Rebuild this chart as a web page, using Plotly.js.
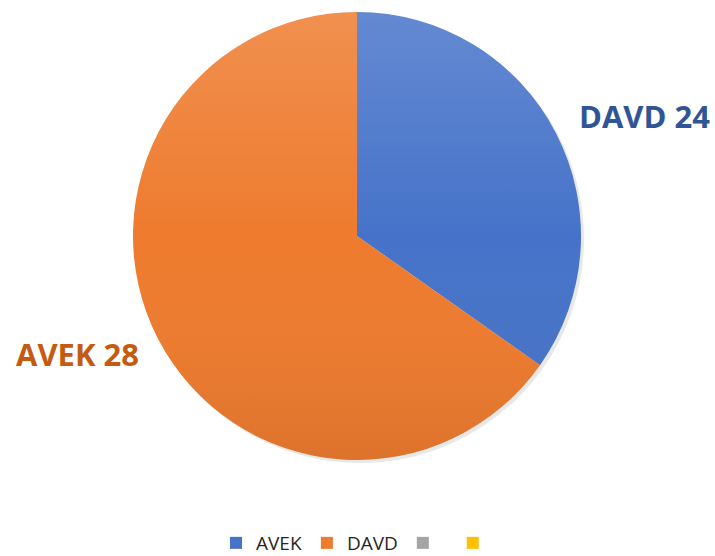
<!DOCTYPE html>
<html>
<head>
<meta charset="utf-8">
<script src="https://cdn.plot.ly/plotly-3.0.1.min.js"></script>
<style>html,body{margin:0;padding:0;background:#fff;}#chart{width:715px;height:556px;}</style>
</head>
<body>
<div id="chart"></div>
<script>
// Legend categories (last two are unnamed in the source chart)
var categories = ["AVEK", "DAVD", " ", "  "];
// Slice sizes
var sliceValues = [24, 45, 0, 0];
var sliceColors = ["#4673C9", "#EE7B2E", "#A5A5A5", "#FFC000"];
// Data label texts as printed on the chart
var labelNames = ["DAVD", "AVEK"];
var labelValues = [24, 28];
var labelColors = ["#2F5597", "#C55A11"];

var W = 715, H = 556;
var cx = 357, cy = 236, r = 224;

var shadow = {
  type: "pie",
  values: [1],
  labels: ["shadow"],
  marker: {colors: ["rgba(0,0,0,0.09)"], line: {width: 0}},
  textinfo: "none",
  hoverinfo: "skip",
  showlegend: false,
  sort: false,
  domain: {x: [(cx - r + 3) / W, (cx + r + 3) / W], y: [(H - (cy + r + 3)) / H, (H - (cy - r + 3)) / H]}
};

var pie = {
  type: "pie",
  values: sliceValues,
  labels: categories,
  marker: {colors: sliceColors, line: {width: 0}},
  textinfo: "none",
  hoverinfo: "none",
  sort: false,
  direction: "clockwise",
  rotation: 0,
  domain: {x: [(cx - r) / W, (cx + r) / W], y: [(H - (cy + r)) / H, (H - (cy - r)) / H]}
};

var labelPos = [[644, 116], [77, 354]];
var annotations = labelNames.map(function (n, i) {
  return {
    xref: "paper", yref: "paper",
    x: labelPos[i][0] / W, y: 1 - labelPos[i][1] / H,
    xanchor: "center", yanchor: "middle",
    text: "<b>" + n + " " + labelValues[i] + "</b>",
    showarrow: false,
    font: {family: "Open Sans, sans-serif", size: 31, color: labelColors[i]}
  };
});

// Soft top-to-bottom shading like the Office gradient fill
var gradSvg = '<svg xmlns="http://www.w3.org/2000/svg" width="448" height="448" viewBox="0 0 448 448">' +
  '<defs><linearGradient id="g" x1="0" y1="0" x2="0" y2="1">' +
  '<stop offset="0" stop-color="#ffffff" stop-opacity="0.16"/>' +
  '<stop offset="0.5" stop-color="#ffffff" stop-opacity="0"/>' +
  '<stop offset="1" stop-color="#000000" stop-opacity="0.07"/>' +
  '</linearGradient></defs><circle cx="224" cy="224" r="224" fill="url(#g)"/></svg>';

var layout = {
  width: W, height: H,
  margin: {l: 0, r: 0, t: 0, b: 0, autoexpand: false},
  paper_bgcolor: "#ffffff",
  showlegend: true,
  legend: {
    orientation: "h",
    x: 362 / W, xanchor: "center",
    y: 13 / H, yanchor: "middle",
    font: {family: "Open Sans, sans-serif", size: 19, color: "#262626"},
    itemclick: false, itemdoubleclick: false,
    traceorder: "normal"
  },
  images: [{
    source: "data:image/svg+xml;charset=utf-8," + encodeURIComponent(gradSvg),
    xref: "paper", yref: "paper",
    x: (cx - r) / W, y: 1 - (cy - r) / H,
    sizex: 2 * r / W, sizey: 2 * r / H,
    xanchor: "left", yanchor: "top",
    sizing: "stretch", layer: "above"
  }],
  annotations: annotations
};

Plotly.newPlot("chart", [shadow, pie], layout, {displayModeBar: false, staticPlot: true});
</script>
</body>
</html>
